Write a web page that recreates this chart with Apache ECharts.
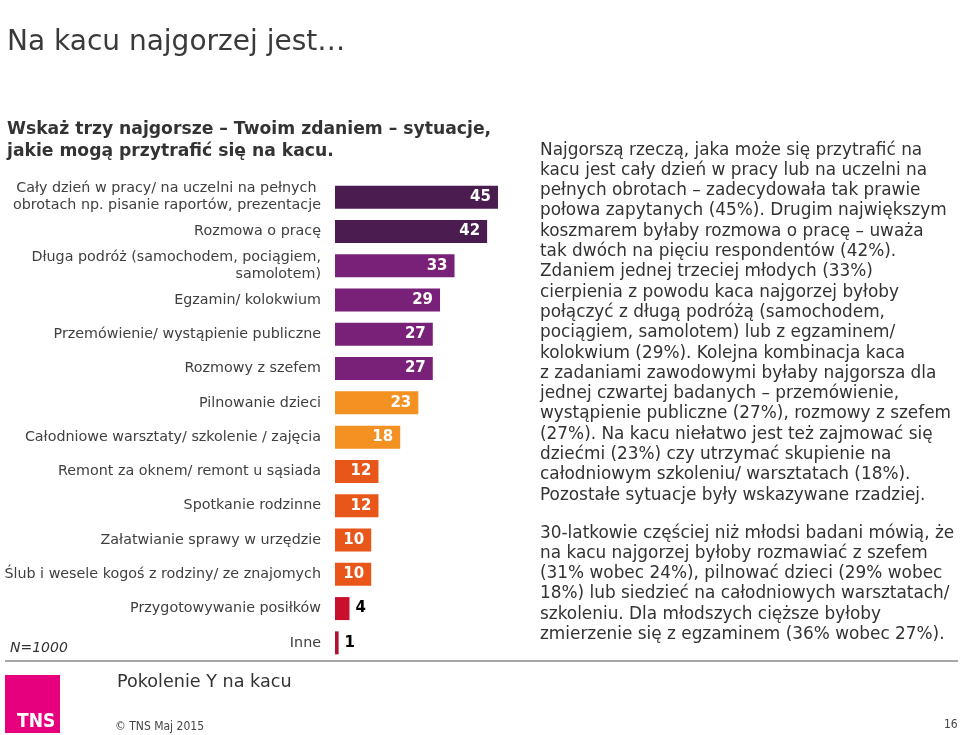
<!DOCTYPE html>
<html>
<head>
<meta charset="utf-8">
<script src="https://cdn.jsdelivr.net/npm/echarts@6/dist/echarts.min.js"></script>
<style>
html,body{margin:0;padding:0;background:#fff;}
#chart{width:960px;height:735px;}
</style>
</head>
<body>
<div id="chart"></div>
<script>
const categories = [
  'Cały dzień w pracy/ na uczelni na pełnych \nobrotach np. pisanie raportów, prezentacje',
  'Rozmowa o pracę',
  'Długa podróż (samochodem, pociągiem,\nsamolotem)',
  'Egzamin/ kolokwium',
  'Przemówienie/ wystąpienie publiczne',
  'Rozmowy z szefem',
  'Pilnowanie dzieci',
  'Całodniowe warsztaty/ szkolenie / zajęcia',
  'Remont za oknem/ remont u sąsiada',
  'Spotkanie rodzinne',
  'Załatwianie sprawy w urzędzie',
  'Ślub i wesele kogoś z rodziny/ ze znajomych',
  'Przygotowywanie posiłków',
  'Inne'
];
const values = [45, 42, 33, 29, 27, 27, 23, 18, 12, 12, 10, 10, 4, 1];
const barColors = ['#4a1c50', '#4a1c50', '#792079', '#792079', '#792079', '#792079',
  '#f39123', '#f39123', '#e8561a', '#e8561a', '#e8561a', '#e8561a', '#c8102e', '#b0122f'];

const para1 = [
  'Najgorszą rzeczą, jaka może się przytrafić na',
  'kacu jest cały dzień w pracy lub na uczelni na',
  'pełnych obrotach – zadecydowała tak prawie',
  'połowa zapytanych (45%). Drugim największym',
  'koszmarem byłaby rozmowa o pracę – uważa',
  'tak dwóch na pięciu respondentów (42%).',
  'Zdaniem jednej trzeciej młodych (33%)',
  'cierpienia z powodu kaca najgorzej byłoby',
  'połączyć z długą podróżą (samochodem,',
  'pociągiem, samolotem) lub z egzaminem/',
  'kolokwium (29%). Kolejna kombinacja kaca',
  'z zadaniami zawodowymi byłaby najgorsza dla',
  'jednej czwartej badanych – przemówienie,',
  'wystąpienie publiczne (27%), rozmowy z szefem',
  '(27%). Na kacu niełatwo jest też zajmować się',
  'dziećmi (23%) czy utrzymać skupienie na',
  'całodniowym szkoleniu/ warsztatach (18%).',
  'Pozostałe sytuacje były wskazywane rzadziej.'
];
const para2 = [
  '30-latkowie częściej niż młodsi badani mówią, że',
  'na kacu najgorzej byłoby rozmawiać z szefem',
  '(31% wobec 24%), pilnować dzieci (29% wobec',
  '18%) lub siedzieć na całodniowych warsztatach/',
  'szkoleniu. Dla młodszych cięższe byłoby',
  'zmierzenie się z egzaminem (36% wobec 27%).'
];

const FONT = '"DejaVu Sans", Verdana, sans-serif';
const chart = echarts.init(document.getElementById('chart'));

const option = {
  animation: false,
  backgroundColor: '#ffffff',
  grid: { left: 335, top: 180, width: 181.1, height: 480, containLabel: false },
  xAxis: { type: 'value', min: 0, max: 50, show: false },
  yAxis: {
    type: 'category', inverse: true, data: categories,
    axisLine: { show: false }, axisTick: { show: false },
    axisLabel: { color: '#404040', fontSize: 14.3, fontFamily: FONT, margin: 14, lineHeight: 17, align: 'right' }
  },
  series: [{
    type: 'bar',
    barWidth: 23,
    data: values.map((v, i) => ({
      value: v,
      itemStyle: { color: barColors[i] },
      label: v < 8 ? { position: 'right', color: '#000', distance: 6 } : { position: 'insideRight', color: '#fff', distance: 7 }
    })),
    label: { show: true, fontSize: 15, fontWeight: 'bold', fontFamily: FONT }
  }],
  graphic: [
    { type: 'text', left: 7, top: 29, style: { text: 'Na kacu najgorzej jest…', fill: '#3a3a3a', font: '28px ' + FONT } },
    { type: 'text', left: 7, top: 119, style: { text: 'Wskaż trzy najgorsze – Twoim zdaniem – sytuacje,\njakie mogą przytrafić się na kacu.', fill: '#333', font: 'bold 17.2px ' + FONT, lineHeight: 22 } },
    { type: 'text', left: 540, top: 140, style: { text: para1.join('\n'), fill: '#333', font: '16.9px ' + FONT, lineHeight: 20.3 } },
    { type: 'text', left: 540, top: 523, style: { text: para2.join('\n'), fill: '#333', font: '16.9px ' + FONT, lineHeight: 20.3 } },
    { type: 'text', left: 10, top: 641, style: { text: 'N=1000', fill: '#333', font: 'italic 14px ' + FONT } },
    { type: 'line', shape: { x1: 5, y1: 661, x2: 958, y2: 661 }, style: { stroke: '#8a8a8a', lineWidth: 1.5 } },
    { type: 'rect', shape: { x: 5, y: 675, width: 55, height: 58 }, style: { fill: '#e6007e' } },
    { type: 'text', left: 17, top: 713, style: { text: 'TNS', fill: '#fff', font: 'bold 19px "Liberation Sans Narrow", "DejaVu Sans Condensed", sans-serif' } },
    { type: 'text', left: 117, top: 673, style: { text: 'Pokolenie Y na kacu', fill: '#333', font: '17.6px ' + FONT } },
    { type: 'text', left: 115, top: 721, style: { text: '© TNS Maj 2015', fill: '#444', font: '12px "DejaVu Sans Condensed", ' + FONT } },
    { type: 'text', left: 944, top: 719, style: { text: '16', fill: '#444', font: '12px "DejaVu Sans Condensed", ' + FONT } }
  ]
};
chart.setOption(option);
</script>
</body>
</html>
